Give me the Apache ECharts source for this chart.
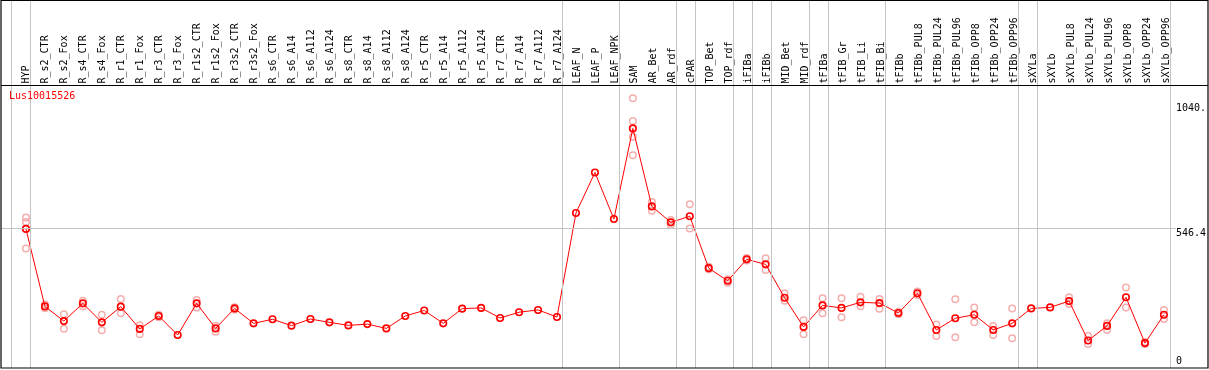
<!DOCTYPE html>
<html><head><meta charset="utf-8">
<script src="https://cdn.jsdelivr.net/npm/echarts@6/dist/echarts.min.js"></script>
<style>html,body{margin:0;padding:0;background:#fff}#c{width:1209px;height:370px}</style>
</head><body><div id="c"></div>
<script>
const geneName = 'Lus10015526';
const categories = ['HYP','R_s2_CTR','R_s2_Fox','R_s4_CTR','R_s4_Fox','R_r1_CTR','R_r1_Fox','R_r3_CTR','R_r3_Fox',
  'R_r1s2_CTR','R_r1s2_Fox','R_r3s2_CTR','R_r3s2_Fox','R_s6_CTR','R_s6_A14','R_s6_A112','R_s6_A124',
  'R_s8_CTR','R_s8_A14','R_s8_A112','R_s8_A124','R_r5_CTR','R_r5_A14','R_r5_A112','R_r5_A124',
  'R_r7_CTR','R_r7_A14','R_r7_A112','R_r7_A124','LEAF_N','LEAF_P','LEAF_NPK','SAM','AR_Bet','AR_rdf',
  'cPAR','TOP_Bet','TOP_rdf','iFIBa','iFIBb','MID_Bet','MID_rdf','tFIBa','tFIB_Gr','tFIB_Li','tFIB_Bi',
  'tFIBb','tFIBb_PUL8','tFIBb_PUL24','tFIBb_PUL96','tFIBb_OPP8','tFIBb_OPP24','tFIBb_OPP96',
  'sXYLa','sXYLb','sXYLb_PUL8','sXYLb_PUL24','sXYLb_PUL96','sXYLb_OPP8','sXYLb_OPP24','sXYLb_OPP96'];
const means = [545,239,181,251,176,238,150,201,126,251,152,231,172,188,163,189,176,164,169,152,201,223,172,230,233,193,216,225,197,
  608,768,584,942,634,571,595,390,340,425,405,273,158,243,233,255,252,213,291,146,192,206,146,172,231,235,260,104,162,275,94,206];
const rep1 = [590,246,208,261,206,268,165,206,null,264,163,236,null,null,null,null,null,null,null,null,null,null,null,null,null,null,null,null,null,
  null,null,null,1061,651,580,642,396,346,430,429,291,184,271,271,277,268,218,298,167,267,235,162,231,null,null,275,122,172,314,98,225];
const rep2 = [572,232,151,240,145,212,129,196,null,235,139,226,null,null,null,null,null,null,null,null,null,null,null,null,null,null,null,null,null,
  null,null,null,971,617,560,547,386,332,420,383,261,129,212,196,240,230,208,284,122,117,176,126,113,null,null,248,90,146,235,90,189];
const rep3 = [468,null,null,null,null,null,null,null,null,null,null,null,null,null,null,null,null,null,null,null,null,null,null,null,null,null,null,null,null,
  null,null,null,909,null,null,null,null,null,null,null,null,null,null,null,null,null,null,null,null,null,null,null,null,null,null,null,null,null,null,null,null];
const rep4 = [null,null,null,null,null,null,null,null,null,null,null,null,null,null,null,null,null,null,null,null,null,null,null,null,null,null,null,null,null,
  null,null,null,836,null,null,null,null,null,null,null,null,null,null,null,null,null,null,null,null,null,null,null,null,null,null,null,null,null,null,null,null];
const groupEnds = [-1,0,28,31,34,35,37,38,39,41,42,45,52,53,60];
const yTicks = [0, 546.4, 1040];
const yTickLabels = ['0', '546.4', '1040.'];
const yGridLines = [546.4];

const FONT = 'DejaVu Sans Mono';
const XMIN = -25/19, XMAX = -25/19 + 1177/19;

const repData = [];
[rep1, rep2, rep3, rep4].forEach(arr => arr.forEach((v, i) => { if (v != null) repData.push([i, v]); }));

function tickLabel(v) {
  const k = yTicks.findIndex(t => Math.abs(t - v) < 1e-6);
  return k >= 0 ? yTickLabels[k] : '';
}
const yLabelBase = {margin: 0, align: 'left', lineHeight: 10, fontFamily: FONT, fontSize: 10, color: '#000', formatter: tickLabel};

const chart = echarts.init(document.getElementById('c'), null, {renderer: 'canvas'});
chart.setOption({
  animation: false,
  backgroundColor: '#fff',
  title: {text: geneName, left: 9, top: 91, padding: 0,
    textStyle: {color: '#ff0000', fontSize: 10, fontWeight: 'normal', fontFamily: FONT}},
  grid: [
    {left: 16.5, right: 33.5, top: 0, height: 85},
    {left: 1, right: 31, top: 0, bottom: 2},
    {left: 1, right: 31, top: 103.6, bottom: 3.1}
  ],
  xAxis: [
    {gridIndex: 0, type: 'category', data: categories, position: 'bottom',
      axisLine: {show: false}, axisTick: {show: false}, splitLine: {show: false},
      axisLabel: {inside: true, rotate: 90, interval: 0, margin: 1.5, fontFamily: FONT, fontSize: 10, color: '#000'}},
    {gridIndex: 1, type: 'value', min: XMIN, max: XMAX, show: false},
    {gridIndex: 2, type: 'value', min: XMIN, max: XMAX, show: false}
  ],
  yAxis: [
    {gridIndex: 0, type: 'value', show: false},
    {gridIndex: 1, type: 'value', min: 0, max: 1, show: false},
    {gridIndex: 2, type: 'value', min: yTicks[0], max: yTicks[yTicks.length - 1], position: 'right',
      axisLine: {show: false}, axisTick: {show: false}, splitLine: {show: false},
      axisLabel: Object.assign({customValues: yTicks.slice(1), verticalAlign: 'top'}, yLabelBase)},
    {gridIndex: 2, type: 'value', min: yTicks[0], max: yTicks[yTicks.length - 1], position: 'right',
      axisLine: {show: false}, axisTick: {show: false}, splitLine: {show: false},
      axisLabel: Object.assign({customValues: yTicks.slice(0, 1), verticalAlign: 'bottom'}, yLabelBase)}
  ],
  graphic: [
    {type: 'rect', shape: {x: 1, y: 0.5, width: 1207, height: 367.5}, style: {fill: 'none', stroke: '#000', lineWidth: 1.2}, z: 100},
    {type: 'line', shape: {x1: 1, y1: 85.5, x2: 1208, y2: 85.5}, style: {stroke: '#000', lineWidth: 1.2}, z: 100}
  ],
  series: [
    {type: 'line', xAxisIndex: 1, yAxisIndex: 1, data: [], symbol: 'none', silent: true,
      markLine: {silent: true, symbol: ['none', 'none'], label: {show: false},
        lineStyle: {color: '#c4c4c4', width: 1, type: 'solid'},
        data: groupEnds.map(i => ({xAxis: i + 0.237}))}},
    {type: 'line', xAxisIndex: 2, yAxisIndex: 2, data: [], symbol: 'none', silent: true,
      markLine: {silent: true, symbol: ['none', 'none'], label: {show: false},
        lineStyle: {color: '#c4c4c4', width: 1, type: 'solid'},
        data: yGridLines.map(v => ({yAxis: v}))}},
    {type: 'scatter', xAxisIndex: 2, yAxisIndex: 2, data: repData, clip: false, z: 3,
      symbol: 'circle', symbolSize: 6.5,
      itemStyle: {color: 'rgba(0,0,0,0)', borderColor: '#f29a9a', borderWidth: 1.5}},
    {type: 'line', xAxisIndex: 2, yAxisIndex: 2, data: means.map((v, i) => [i, v]), clip: false, z: 4,
      showAllSymbol: true, symbol: 'circle', symbolSize: 6.5,
      lineStyle: {color: '#ff0000', width: 1},
      itemStyle: {color: 'rgba(0,0,0,0)', borderColor: '#ff0000', borderWidth: 1.6}}
  ]
});
</script></body></html>
